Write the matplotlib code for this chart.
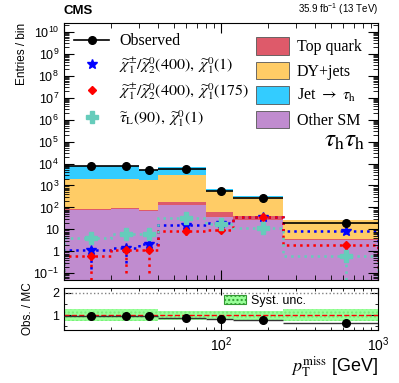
import numpy as np
import matplotlib
matplotlib.use("Agg")
import matplotlib.pyplot as plt
from matplotlib.patches import Patch
from matplotlib.lines import Line2D
from matplotlib.ticker import FixedLocator, LogLocator, FuncFormatter, NullFormatter

plt.rcParams['font.family'] = ['Liberation Sans', 'DejaVu Sans']
plt.rcParams['mathtext.fontset'] = 'stix'

# binning in pTmiss [GeV]
edges = np.array([10, 20, 30, 40, 80, 120, 250, 1000])

# backgrounds, per bin
other_sm = [73, 84, 68, 135, 36, 26, 3.2]
top_quark = [8, 9, 7, 45, 25, 14, 0.6]
dy_jets = [1920, 1910, 1680, 2920, 530, 255, 22.2]
jet_tau = [6000, 6000, 3500, 3700, 70, 30, 2.0]

# observed data
observed = [7600, 7700, 5000, 5800, 550, 260, 18.7]

# signals
sig_blue = [1.15, 1.4, 2.2, 16, 19, 36, 8.9]
sig_blue_err = [1.0, 1.1, 1.3, 4, 4, 6, 3]
sig_red = [0.6, 1.1, 1.1, 8.3, 9.3, 35, 2.0]
sig_red_err = [0.55, 1.0, 1.0, 2.5, 2.5, 5, 1.0]
sig_cyan = [4.2, 6.3, 5.9, 34, 17, 12, 0.61]
sig_cyan_err = [1.5, 2.0, 2.0, 5, 3, 3, 0.56]

# ratio panel
syst_unc = [0.27, 0.27, 0.27, 0.2, 0.18, 0.2, 0.25]

centers = 0.5 * (edges[:-1] + edges[1:])
xerr = [centers - edges[:-1], edges[1:] - centers]

c_other = '#c08ccf'
c_top = '#de5a6a'
c_dy = '#ffcc66'
c_jet = '#33ccff'
c_stau = '#66ccbb'

fig = plt.figure(figsize=(3.99, 3.83), dpi=100)
ax = fig.add_axes([0.160, 0.269, 0.787, 0.671])
axr = fig.add_axes([0.160, 0.138, 0.787, 0.110], sharex=ax)

# stacked backgrounds
base = np.zeros(len(centers))
for vals, col in [(other_sm, c_other), (top_quark, c_top), (dy_jets, c_dy), (jet_tau, c_jet)]:
    top = base + np.array(vals)
    ax.stairs(top, edges, baseline=np.where(base > 0, base, 1e-3), fill=True, color=col, lw=0)
    base = top
mc_total = base

# signals
for vals, err, col, mk, ms in [(sig_blue, sig_blue_err, 'blue', '*', 7),
                               (sig_red, sig_red_err, 'red', 'D', 4.5),
                               (sig_cyan, sig_cyan_err, c_stau, 'P', 8)]:
    ax.stairs(vals, edges, color=col, ls=':', lw=1.8)
    eb = ax.errorbar(centers, vals, yerr=err, fmt=mk, color=col, ms=ms, elinewidth=1.8, capsize=0)
    eb[2][0].set_linestyle(':')

# observed
ax.errorbar(centers, observed, xerr=xerr, yerr=np.sqrt(observed), fmt='o', color='black',
            ms=5.5, elinewidth=1.2, capsize=0, zorder=5)

ax.set_xscale('log')
ax.set_yscale('log')
ax.set_xlim(10, 1000)
ax.set_ylim(0.05, 2.5e10)


def ylab(v, pos):
    e = int(round(np.log10(v)))
    if e == 0:
        return '1'
    if e == 1:
        return '10'
    return r'$\mathregular{10^{%d}}$' % e


ax.yaxis.set_major_locator(FixedLocator([10.0 ** k for k in range(-1, 11)]))
ax.yaxis.set_major_formatter(FuncFormatter(ylab))
ax.yaxis.set_minor_locator(LogLocator(base=10, subs=np.arange(2, 10), numticks=20))
ax.yaxis.set_minor_formatter(NullFormatter())
ax.tick_params(axis='both', which='both', direction='in', top=True, right=True, labelsize=9)
ax.tick_params(which='major', length=7)
ax.tick_params(which='minor', length=3.5)
ax.tick_params(axis='x', labelbottom=False)
ax.set_ylabel('Entries / bin', fontsize=8.5, loc='top')

# legends
serif = {'family': 'Liberation Serif', 'size': 11.5}
h1 = [Line2D([], [], color='black', marker='o', ms=5.5, lw=1.2),
      Line2D([], [], color='blue', marker='*', ls='', ms=7),
      Line2D([], [], color='red', marker='D', ls='', ms=4.5),
      Line2D([], [], color=c_stau, marker='P', ls='', ms=8)]
l1 = [r'Observed',
      r'$\widetilde{\chi}^{\pm}_{1}/\widetilde{\chi}^{0}_{2}(400),\ \widetilde{\chi}^{0}_{1}(1)$',
      r'$\widetilde{\chi}^{\pm}_{1}/\widetilde{\chi}^{0}_{2}(400),\ \widetilde{\chi}^{0}_{1}(175)$',
      r'$\widetilde{\tau}_{\mathrm{L}}(90),\ \widetilde{\chi}^{0}_{1}(1)$']
leg1 = ax.legend(h1, l1, loc='upper left', bbox_to_anchor=(0.0, 1.0), frameon=False,
                 prop=serif, handlelength=2.2, handletextpad=0.6, labelspacing=0.35,
                 borderaxespad=0.25)
ax.add_artist(leg1)

h2 = [Patch(facecolor=c, edgecolor='#555555', lw=0.6) for c in [c_top, c_dy, c_jet, c_other]]
l2 = ['Top quark', 'DY+jets', r'Jet $\rightarrow$ $\tau_{\mathrm{h}}$', 'Other SM']
ax.legend(h2, l2, loc='upper right', bbox_to_anchor=(0.995, 1.0), frameon=False, prop=serif,
          handlelength=2.1, handleheight=1.3, handletextpad=0.5, labelspacing=0.4)

ax.text(0.96, 0.545, r'$\tau_{\mathrm{h}}\tau_{\mathrm{h}}$', transform=ax.transAxes,
        ha='right', va='center', fontsize=18)

fig.text(0.160, 0.955, 'CMS', fontsize=9.5, fontweight='bold', ha='left', va='bottom')
fig.text(0.947, 0.955, r'35.9 fb$^{\mathregular{-1}}$ (13 TeV)', fontsize=7, ha='right', va='bottom')

# ratio panel
ratio = np.array(observed) / mc_total
ratio_err = np.sqrt(observed) / mc_total
unc = np.array(syst_unc)
axr.stairs(1 + unc, edges, baseline=1 - unc, fill=True, color='#99ff99', lw=0, hatch='....',
           edgecolor='#77ee77')
axr.axhline(1, color='red', ls='--', lw=1)
axr.axhline(2, color='gray', ls=':', lw=1)
axr.errorbar(centers, ratio, xerr=xerr, yerr=ratio_err, fmt='o', color='black', ms=5.5,
             ecolor='#333333', elinewidth=1.0, capsize=0, zorder=5)
axr.set_ylim(0.33, 2.2)
axr.set_yticks([1, 2])
axr.set_yticklabels(['1', '2'])
axr.yaxis.set_minor_locator(FixedLocator([0.5, 1.5]))
axr.tick_params(axis='both', which='both', direction='in', top=True, right=True, labelsize=9)
axr.tick_params(which='major', length=5)
axr.tick_params(which='minor', length=2.5)
axr.set_ylabel('Obs. / MC', fontsize=8.5)
axr.yaxis.set_label_coords(-0.095, 0.5)


def xlab(v, pos):
    e = int(round(np.log10(v)))
    if e < 2:
        return ''
    return r'$\mathregular{10^{%d}}$' % e


axr.xaxis.set_major_locator(FixedLocator([10, 100, 1000]))
axr.xaxis.set_major_formatter(FuncFormatter(xlab))
axr.xaxis.set_minor_locator(LogLocator(base=10, subs=np.arange(2, 10), numticks=20))
axr.xaxis.set_minor_formatter(NullFormatter())
axr.tick_params(axis='x', labelsize=10, pad=4)
axr.legend([Patch(facecolor='#99ff99', edgecolor='#339933', hatch='....', lw=0.8)], ['Syst. unc.'],
           loc='upper center', bbox_to_anchor=(0.64, 1.02), frameon=False, fontsize=9,
           handlelength=1.8, handleheight=0.8, handletextpad=0.4, borderaxespad=0.2)
axr.set_xlabel(r'$p_{\mathrm{T}}^{\mathrm{miss}}$ [GeV]', fontsize=13, loc='right', labelpad=0)

fig.savefig('out.png', dpi=100)
